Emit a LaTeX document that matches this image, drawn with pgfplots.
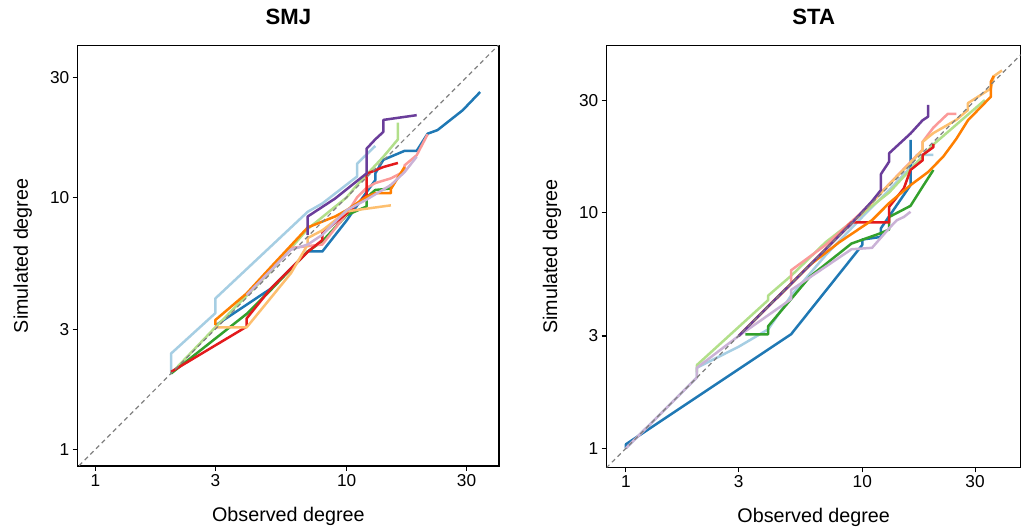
\documentclass[border=0pt]{standalone}
\usepackage{fontspec}
\setmainfont{Liberation Sans}
\usepackage{pgfplots}
\pgfplotsset{compat=1.18}
\definecolor{pA}{HTML}{A6CEE3}
\definecolor{pB}{HTML}{1F78B4}
\definecolor{pC}{HTML}{B2DF8A}
\definecolor{pD}{HTML}{33A02C}
\definecolor{pE}{HTML}{FB9A99}
\definecolor{pF}{HTML}{E31A1C}
\definecolor{pG}{HTML}{FDBF6F}
\definecolor{pH}{HTML}{FF7F00}
\definecolor{pI}{HTML}{CAB2D6}
\definecolor{pJ}{HTML}{6A3D9A}

\pgfplotsset{
  every axis/.append style={
    scale only axis, anchor=south west,
    xminorticks=false, yminorticks=false,
    tick align=outside, tick pos=left, major tick length=5bp,
    axis line style={line width=1.3bp},
    tick style={line width=1.1bp, black},
    ticklabel style={font=\fontsize{17.3}{20}\selectfont},
    label style={font=\fontsize{19.8}{23}\selectfont},
    title style={font=\fontsize{22.2}{26}\selectfont\bfseries, anchor=base},
  },
  every axis plot/.append style={line width=2.5bp, line join=round},
}

\begin{document}
\begin{tikzpicture}
\useasboundingbox (0,0) rectangle (1022bp,529bp);

% SMJ
\begin{axis}[xmode=log, ymode=log, at={(77.7bp,63bp)}, width=421.3bp, height=420.3bp,
  xmin=0.85, xmax=40.4, ymin=0.859, ymax=40,
  xtick={1,3,10,30}, xticklabels={1,3,10,30},
  ytick={1,3,10,30}, yticklabels={1,3,10,30},
  title={SMJ}, title style={at={(axis description cs:0.5,1.037)}},
  xlabel={Observed degree}, ylabel={Simulated degree},
  xlabel style={at={(axis description cs:0.5,-0.132)}, anchor=base},
  ylabel style={at={(axis description cs:-0.118,0.5)}, anchor=base}]
\addplot[pA] coordinates {(2,2.03)(2,2.40)(3,3.47)(3,3.97)(7,8.77)(8,9.46)(11,12.1)(11,13.6)(13,16.0)};
\addplot[pB] coordinates {(3,3.1)(5,4.35)(7,6.1)(8,6.1)(10,8.1)(12,10.5)(13,11.7)(13,12.45)(14,14.1)(17,15.3)(19,15.3)(21,17.9)(23,18.5)(29,22.2)(34,26.2)};
\addplot[pC] coordinates {(2,2.0)(3,3.05)(5,5.1)(7,7.5)(10,10.0)(11,11.2)(12,12.3)(14,14.5)(16,17.0)(16,19.8)};
\addplot[pD] coordinates {(2,2.0)(4,3.45)(5,4.3)(7,6.1)(8,6.7)(10,8.5)(12,9.2)(12,10.0)(13,10.7)(15,10.85)(15,11.3)};
\addplot[pE] coordinates {(6,6.3)(8,6.5)(10,8.6)(11,10.0)(12,10.9)(13,11.4)(15,11.9)(17,12.7)(17,13.4)(19,14.7)(21,17.8)};
\addplot[pF] coordinates {(2,2.03)(4,3.07)(4,3.31)(5,4.36)(7,6.08)(8,6.77)(8,7.2)(10,8.64)(12,10.2)(12,12.4)(14,13.2)(16,13.7)};
\addplot[pG] coordinates {(3,3.05)(4,3.05)(6,5.0)(7,6.5)(7,6.9)(8,7.4)(10,8.8)(15,9.3)};
\addplot[pH] coordinates {(3,3.11)(3,3.26)(4,4.16)(5,5.3)(7,7.6)(9,8.4)(10,8.9)(12,10.05)(13,10.4)(15,10.4)(15,10.8)(17,13.2)};
\addplot[pI] coordinates {(4,4.1)(6,6.2)(7,6.5)(8,7.1)(10,8.9)(12,9.8)(15,11.2)(17,12.6)(19,14.5)};
\addplot[pJ] coordinates {(7,7.1)(7,8.4)(9,9.9)(12,12.45)(12,15.6)(13,17.0)(14,18.2)(14,20.3)(19,21.2)};
\addplot[gray, line width=1.2bp, dash pattern=on 4.5bp off 3.5bp] coordinates {(0.7,0.7)(60,60)};
\end{axis}

% STA
\begin{axis}[xmode=log, ymode=log, at={(606.7bp,61.7bp)}, width=414bp, height=421.6bp,
  xmin=0.83, xmax=46.8, ymin=0.831, ymax=51.2,
  xtick={1,3,10,30}, xticklabels={1,3,10,30},
  ytick={1,3,10,30}, yticklabels={1,3,10,30},
  title={STA}, title style={at={(axis description cs:0.5,1.037)}},
  xlabel={Observed degree}, ylabel={Simulated degree},
  xlabel style={at={(axis description cs:0.5,-0.130)}, anchor=base},
  ylabel style={at={(axis description cs:-0.120,0.5)}, anchor=base}]
\addplot[pA] coordinates {(1,1.0)(2,2.0)(2,2.2)(3,2.7)(4,3.2)(5,4.45)(7,6.6)(10,9.6)(13,12.5)(16,15.6)(17,17.6)(20,17.6)};
\addplot[pB] coordinates {(1,1.0)(1,1.04)(5,3.05)(10,7.3)(10,7.7)(12,7.9)(12,8.6)(16,13.1)(16,20.4)};
\addplot[pC] coordinates {(2,2.1)(2,2.26)(4,4.26)(4,4.45)(5,5.4)(7,7.5)(10,9.9)(13,12.2)(20,19.5)(33,30.1)};
\addplot[pD] coordinates {(3.2,3.05)(4,3.05)(4,3.3)(5,4.3)(6,5.35)(9,7.4)(12,8.2)(13,8.5)(13,9.6)(16,10.7)(18,12.9)(20,15.2)};
\addplot[pE] coordinates {(5,5.0)(5,5.7)(7,7.3)(10,10.1)(14,14.3)(17,17.5)(18,18.5)(18,20.0)(20,23.0)(23,26.3)(25,26.3)};
\addplot[pF] coordinates {(3,3.0)(7,7.0)(9,9.1)(13,9.1)(13,10.6)(15,12.7)(16,15.2)(18,16.7)(18,17.6)(20,19.0)(20,19.6)};
\addplot[pG] coordinates {(3,3.0)(10,10.0)(13,13.2)(16,16.3)(18,18.5)(18,20.0)(20,21.8)(25,24.8)(27,26.5)(28,27.3)(28,29.2)(35,33.7)(36,38.0)(39,40.2)};
\addplot[pH] coordinates {(3,3.0)(6,6.0)(8,7.5)(11,9.3)(13,11.0)(16,13.1)(19,14.9)(22,17.3)(25,20.6)(28,24.7)(35,31.1)(35,36.0)(36,38.1)};
\addplot[pI] coordinates {(1,1.0)(2,2.0)(2,2.2)(3,3.0)(5,4.3)(5,4.7)(9,7.0)(11,7.1)(13,8.6)(14,9.3)(15,9.6)(16,10.1)};
\addplot[pJ] coordinates {(3,3.0)(9,9.0)(11,11.2)(12,12.5)(12,14.6)(13,16.5)(13,17.9)(16,21.7)(18,24.7)(19,25.6)(19,28.7)};
\addplot[gray, line width=1.2bp, dash pattern=on 4.5bp off 3.5bp] coordinates {(0.7,0.7)(70,70)};
\end{axis}
\end{tikzpicture}
\end{document}
